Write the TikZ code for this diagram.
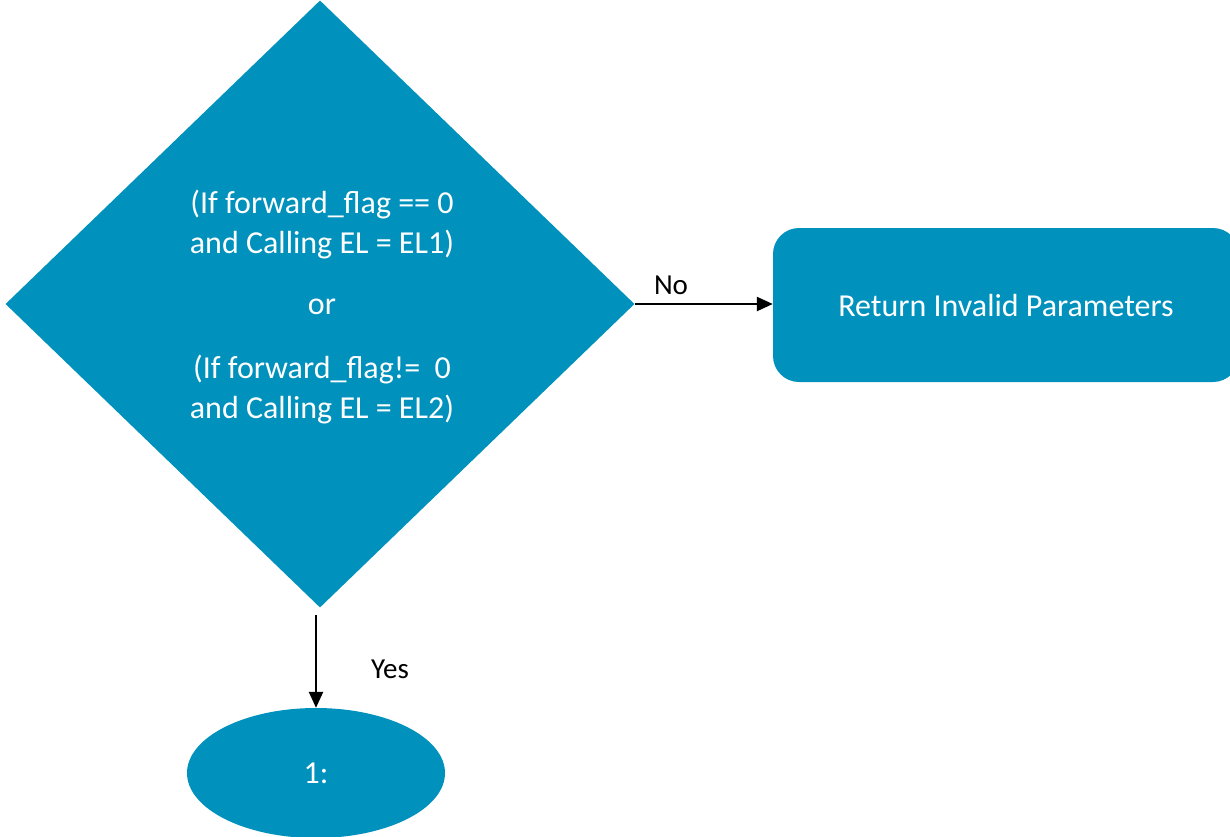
\documentclass[tikz,border=0pt]{standalone}
\usepackage{fontspec}
\setmainfont{Carlito}
\usetikzlibrary{shapes.geometric,arrows.meta}
\definecolor{boxblue}{RGB}{0,145,189}
\begin{document}
\begin{tikzpicture}[x=1pt,y=-1pt,
  shapefill/.style={fill=boxblue,draw=none,inner sep=0pt},
  intext/.style={text=white,font=\fontsize{32}{40}\selectfont,align=center},
  lbl/.style={text=black,font=\fontsize{29}{32}\selectfont,inner sep=0pt},
  conn/.style={draw=black,line width=2.4pt,-{Triangle[length=16pt,width=14pt]}}]
\useasboundingbox (0,0) rectangle (1230,836);
\node[shapefill,diamond,minimum width=629pt,minimum height=607pt] (dia) at (320,304) {};
\node[intext] (diatext) at (322,307) {(If forward\_flag == 0\\and Calling EL = EL1)\\[21pt]or\\[24pt](If forward\_flag!=\ \ 0\\and Calling EL = EL2)};
\node[shapefill,rectangle,rounded corners=26pt,minimum width=466pt,minimum height=154pt,intext] (ret) at (1006,305) {Return Invalid Parameters};
\node[shapefill,ellipse,minimum width=258pt,minimum height=130pt,intext] (one) at (316,773) {1:};
\coordinate (dbot) at (316,615);
\draw[conn] (dbot) -- (one.north);
\draw[conn] (dia.east) -- (dia.east -| ret.west);
\node[lbl] (yes) at (390,669) {Yes};
\node[lbl] (no) at (671,285) {No};
\end{tikzpicture}
\end{document}
